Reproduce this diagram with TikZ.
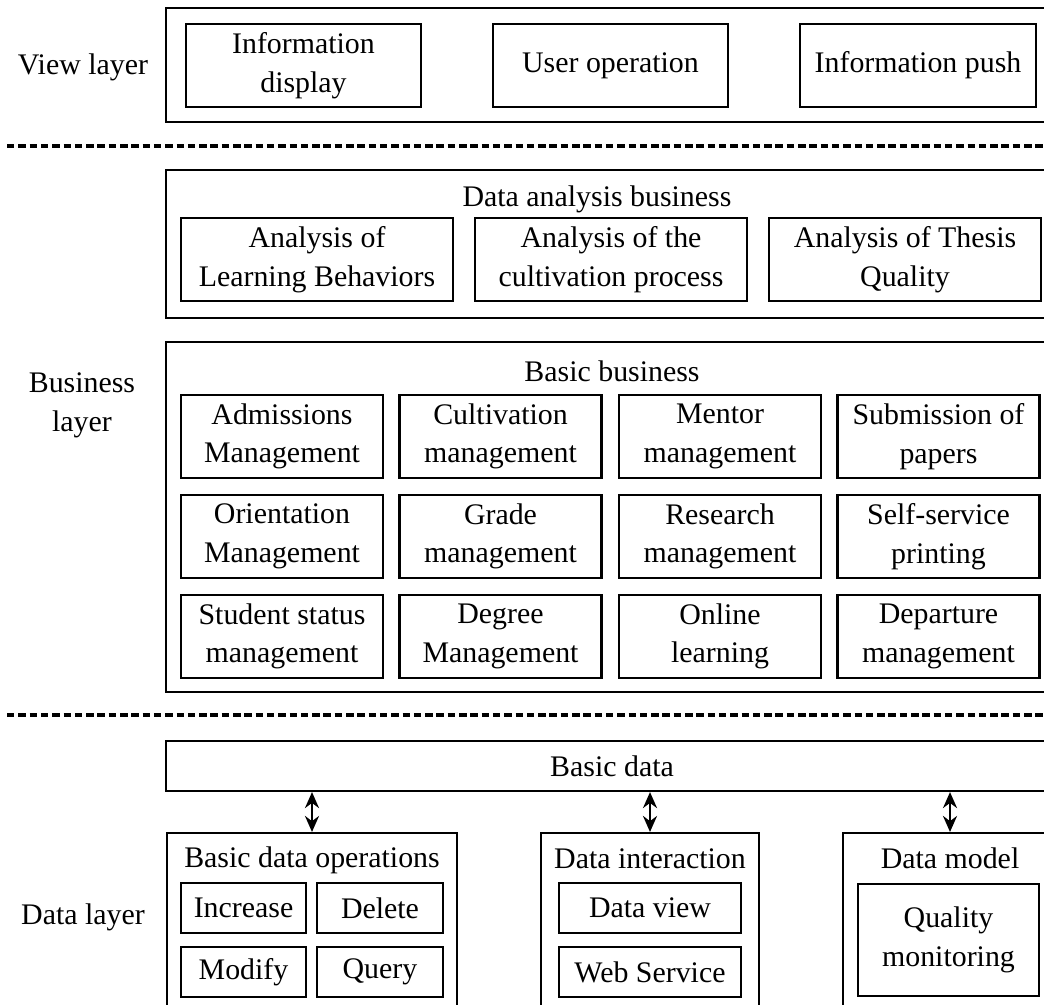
\documentclass[tikz,border=0pt]{standalone}
\usepackage{fontspec}
\setmainfont{Liberation Serif}
\usetikzlibrary{arrows.meta, positioning}

\begin{document}
\begin{tikzpicture}[
  outer/.style={rectangle,draw,line width=1.2pt,minimum width=17.84cm,inner sep=0pt},
  box/.style={rectangle,draw,line width=1.2pt,minimum height=1.66cm,align=center,inner sep=0pt,font=\fontsize{17}{22}\selectfont},
  sbox/.style={box,minimum height=1.0cm},
  ttl/.style={anchor=base,inner sep=0pt,font=\fontsize{17}{22}\selectfont},
  lay/.style={align=center,font=\fontsize{17}{22}\selectfont},
  sep/.style={line width=2pt,dash pattern=on 0.15cm off 0.076cm},
  darr/.style={{Stealth[length=0.32cm,width=0.28cm]}-{Stealth[length=0.32cm,width=0.28cm]},line width=1.4pt}
]
  \useasboundingbox (0,0) rectangle (20.88,-20.08);

  % view layer
  \node[lay] (lview) at (1.66,-1.34) {View layer};
  \node[outer,minimum height=2.28cm] (view) at (12.24,-1.30) {};
  \node[box,minimum width=4.70cm] (disp) at (6.07,-1.31)  {Information\\display};
  \node[box,minimum width=4.70cm] (uop)  at (12.21,-1.31) {User operation};
  \node[box,minimum width=4.72cm] (push) at (18.36,-1.31) {Information push};

  \coordinate (s1a) at (0.14,-2.92); \coordinate (s1b) at (20.88,-2.92);
  \draw[sep] (s1a) -- (s1b);

  % business layer
  \node[lay] (lbus) at (1.64,-8.10) {Business\\layer};
  \node[outer,minimum height=2.96cm] (ana) at (12.24,-4.88) {};
  \node[ttl] (tana) at (11.94,-4.12) {Data analysis business};
  \node[box,minimum width=5.44cm] (a1) at (6.34,-5.19)  {Analysis of\\Learning Behaviors};
  \node[box,minimum width=5.44cm] (a2) at (12.22,-5.19) {Analysis of the\\cultivation process};
  \node[box,minimum width=5.44cm] (a3) at (18.10,-5.19) {Analysis of Thesis\\Quality};

  \node[outer,minimum height=7.00cm] (bas) at (12.24,-10.34) {};
  \node[ttl] (tbas) at (12.24,-7.62) {Basic business};
  \node[box,minimum width=4.04cm] (b11) at (5.64,-8.73)  {Admissions\\Management};
  \node[box,minimum width=4.04cm] (b12) at (10.01,-8.73) {Cultivation\\management};
  \node[box,minimum width=4.04cm] (b13) at (14.40,-8.73) {Mentor\\management};
  \node[box,minimum width=4.04cm] (b14) at (18.77,-8.73) {Submission of\\papers};
  \node[box,minimum width=4.04cm] (b21) at (5.64,-10.73)  {Orientation\\Management};
  \node[box,minimum width=4.04cm] (b22) at (10.01,-10.73) {Grade\\management};
  \node[box,minimum width=4.04cm] (b23) at (14.40,-10.73) {Research\\management};
  \node[box,minimum width=4.04cm] (b24) at (18.77,-10.73) {Self-service\\printing};
  \node[box,minimum width=4.04cm] (b31) at (5.64,-12.73)  {Student status\\management};
  \node[box,minimum width=4.04cm] (b32) at (10.01,-12.73) {Degree\\Management};
  \node[box,minimum width=4.04cm] (b33) at (14.40,-12.73) {Online\\learning};
  \node[box,minimum width=4.04cm] (b34) at (18.77,-12.73) {Departure\\management};

  \coordinate (s2a) at (0.14,-14.30); \coordinate (s2b) at (20.88,-14.30);
  \draw[sep] (s2a) -- (s2b);

  % data layer
  \node[lay] (ldat) at (1.66,-18.34) {Data layer};
  \node[box,minimum width=17.84cm,minimum height=1.0cm] (bdat) at (12.24,-15.32) {Basic data};

  \node[outer,minimum width=5.80cm,minimum height=3.58cm] (ops) at (6.24,-18.45) {};
  \node[ttl] (tops) at (6.24,-17.34) {Basic data operations};
  \node[sbox,minimum width=2.50cm] (inc) at (4.87,-18.16) {Increase};
  \node[sbox,minimum width=2.52cm] (del) at (7.60,-18.16) {Delete};
  \node[sbox,minimum width=2.50cm] (mod) at (4.87,-19.44) {Modify};
  \node[sbox,minimum width=2.52cm] (qry) at (7.60,-19.44) {Query};

  \node[outer,minimum width=4.36cm,minimum height=3.58cm] (inter) at (13.00,-18.45) {};
  \node[ttl] (tinter) at (13.00,-17.36) {Data interaction};
  \node[sbox,minimum width=3.64cm] (dview) at (13.00,-18.16) {Data view};
  \node[sbox,minimum width=3.64cm] (wsvc)  at (13.00,-19.44) {Web Service};

  \node[outer,minimum width=4.28cm,minimum height=3.58cm] (model) at (19.00,-18.45) {};
  \node[ttl] (tmodel) at (19.00,-17.36) {Data model};
  \node[box,minimum width=3.62cm,minimum height=2.24cm] (qmon) at (18.97,-18.80) {Quality\\monitoring};

  \draw[darr] (bdat.south -| ops.north) -- (ops.north);
  \draw[darr] (bdat.south -| inter.north) -- (inter.north);
  \draw[darr] (bdat.south -| model.north) -- (model.north);
\end{tikzpicture}
\end{document}
